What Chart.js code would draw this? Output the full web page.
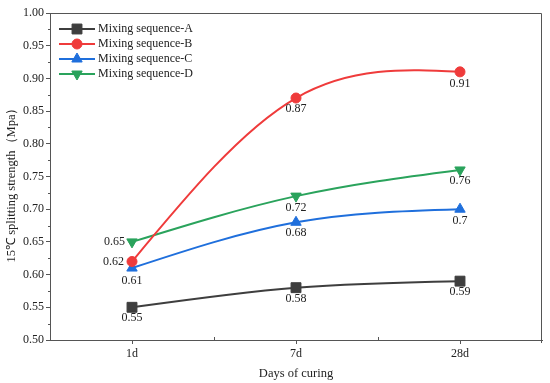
<!DOCTYPE html>
<html>
<head>
<meta charset="utf-8">
<script src="https://cdn.jsdelivr.net/npm/chart.js@4/dist/chart.umd.min.js"></script>
<style>
  html, body { margin: 0; padding: 0; background: #fff; }
  #wrap { width: 550px; height: 383px; }
</style>
</head>
<body>
<div id="wrap"><canvas id="strengthChart" width="550" height="383"></canvas></div>
<script>
// data
const days = ['1d', '7d', '28d'];
const seqA = [0.55, 0.58, 0.59];
const seqB = [0.62, 0.87, 0.91];
const seqC = [0.61, 0.68, 0.70];
const seqD = [0.65, 0.72, 0.76];
const seqLabels = ['Mixing sequence-A', 'Mixing sequence-B', 'Mixing sequence-C', 'Mixing sequence-D'];
// label text as printed in the figure
const pointTexts = [
    ['0.55', '0.58', '0.59'],
    ['0.62', '0.87', '0.91'],
    ['0.61', '0.68', '0.7'],
    ['0.65', '0.72', '0.76']
];

const serif = '"Liberation Serif", "Times New Roman", serif';
const inkColor = '#222';
const axisColor = '#555';

// where each value label sits relative to its point: [dx, dy, align]
const labelPos = [
    [[0, 11, 'center'], [0, 11, 'center'], [0, 11, 'center']],
    [[-8, 0, 'right'], [0, 11, 'center'], [0, 12, 'center']],
    [[0, 13, 'center'], [0, 11, 'center'], [0, 12, 'center']],
    [[-7, 0, 'right'], [0, 12, 'center'], [0, 11, 'center']]
];

// natural cubic spline through the points the library placed
const splinePlugin = {
    id: 'naturalSpline',
    beforeDatasetsDraw(chart) {
        chart.data.datasets.forEach((ds, di) => {
            const meta = chart.getDatasetMeta(di);
            const pts = meta.data;
            const n = pts.length;
            if (n < 3) return;
            const x = pts.map(p => p.x);
            const y = pts.map(p => p.y);
            const h = [];
            for (let i = 0; i < n - 1; i++) h.push(x[i + 1] - x[i]);
            // solve for second derivatives, M0 = Mn-1 = 0
            const a = [], b = [], c = [], r = [];
            for (let i = 1; i < n - 1; i++) {
                a.push(h[i - 1]);
                b.push(2 * (h[i - 1] + h[i]));
                c.push(h[i]);
                r.push(6 * ((y[i + 1] - y[i]) / h[i] - (y[i] - y[i - 1]) / h[i - 1]));
            }
            const m = r.length;
            for (let i = 1; i < m; i++) {
                const w = a[i] / b[i - 1];
                b[i] -= w * c[i - 1];
                r[i] -= w * r[i - 1];
            }
            const inner = new Array(m);
            for (let i = m - 1; i >= 0; i--) {
                inner[i] = (r[i] - (i < m - 1 ? c[i] * inner[i + 1] : 0)) / b[i];
            }
            const M = [0].concat(inner, [0]);
            for (let i = 0; i < n - 1; i++) {
                const hi = h[i];
                const s = (y[i + 1] - y[i]) / hi;
                const dL = s - hi * (2 * M[i] + M[i + 1]) / 6;
                const dR = s + hi * (M[i] + 2 * M[i + 1]) / 6;
                pts[i].cp2x = x[i] + hi / 3;
                pts[i].cp2y = y[i] + dL * hi / 3;
                pts[i + 1].cp1x = x[i + 1] - hi / 3;
                pts[i + 1].cp1y = y[i + 1] - dR * hi / 3;
            }
            pts[0].cp1x = x[0]; pts[0].cp1y = y[0];
            pts[n - 1].cp2x = x[n - 1]; pts[n - 1].cp2y = y[n - 1];
            meta.dataset._pointsUpdated = true;
        });
    }
};

// frame, minor ticks, titles, value labels and legend
const decorPlugin = {
    id: 'decor',
    afterDraw(chart) {
        const ctx = chart.ctx;
        const area = chart.chartArea;
        const xs = chart.scales.x;
        const ys = chart.scales.y;
        ctx.save();

        // top and right frame
        ctx.strokeStyle = axisColor;
        ctx.lineWidth = 1;
        ctx.beginPath();
        ctx.moveTo(area.left, area.top + 0.5);
        ctx.lineTo(area.right - 0.5, area.top + 0.5);
        ctx.lineTo(area.right - 0.5, area.bottom);
        ctx.stroke();

        // minor y ticks
        ctx.beginPath();
        for (let v = 0.525; v < 1; v += 0.05) {
            const py = Math.round(ys.getPixelForValue(v)) + 0.5;
            ctx.moveTo(area.left, py);
            ctx.lineTo(area.left - 2, py);
        }
        // minor x ticks between categories
        for (let i = 0; i < days.length - 1; i++) {
            const px = Math.round((xs.getPixelForValue(i) + xs.getPixelForValue(i + 1)) / 2) + 0.5;
            ctx.moveTo(px, area.bottom);
            ctx.lineTo(px, area.bottom - 3);
        }
        ctx.moveTo(area.right - 0.5, area.bottom);
        ctx.lineTo(area.right - 0.5, area.bottom + 3);
        ctx.stroke();

        // y title
        ctx.fillStyle = inkColor;
        ctx.font = '12.5px ' + serif;
        ctx.textAlign = 'center';
        ctx.textBaseline = 'middle';
        ctx.save();
        ctx.translate(12, 182);
        ctx.rotate(-Math.PI / 2);
        ctx.fillText('15℃ splitting strength（Mpa）', 0, 0);
        ctx.restore();

        // value labels
        ctx.font = '12px ' + serif;
        chart.data.datasets.forEach((ds, di) => {
            const meta = chart.getDatasetMeta(di);
            meta.data.forEach((pt, i) => {
                const p = labelPos[di][i];
                ctx.textAlign = p[2];
                ctx.fillText(pointTexts[di][i], pt.x + p[0], pt.y + p[1]);
            });
        });

        // legend
        const lx = 59, lw = 36;
        let ly = 29;
        ctx.textAlign = 'left';
        chart.data.datasets.forEach((ds) => {
            ctx.strokeStyle = ds.borderColor;
            ctx.fillStyle = ds.borderColor;
            ctx.lineWidth = 2;
            ctx.beginPath();
            ctx.moveTo(lx, ly);
            ctx.lineTo(lx + lw, ly);
            ctx.stroke();
            ctx.lineWidth = 1;
            Chart.helpers.drawPoint(ctx, {
                pointStyle: ds.pointStyle,
                rotation: ds.pointRotation || 0,
                radius: ds.pointRadius,
                borderWidth: 1
            }, lx + lw / 2, ly);
            ctx.fillStyle = inkColor;
            ctx.fillText(ds.label, lx + lw + 3, ly);
            ly += 15;
        });
        ctx.restore();
    }
};

function makeSet(label, values, color, style, radius, rotation) {
    return {
        label: label,
        data: values,
        borderColor: color,
        backgroundColor: color,
        borderWidth: 2,
        pointStyle: style,
        pointRadius: radius,
        pointHoverRadius: radius,
        pointRotation: rotation || 0,
        pointBorderWidth: 1,
        pointBorderColor: color,
        pointBackgroundColor: color,
        tension: 0.4,
        fill: false
    };
}

const config = {
    type: 'line',
    data: {
        labels: days,
        datasets: [
            makeSet(seqLabels[0], seqA, '#3e3e3e', 'rect', 7),
            makeSet(seqLabels[1], seqB, '#ef3b3b', 'circle', 5),
            makeSet(seqLabels[2], seqC, '#1f6fdc', 'triangle', 6),
            makeSet(seqLabels[3], seqD, '#2aa35c', 'triangle', 6, 180)
        ]
    },
    options: {
        responsive: false,
        animation: false,
        devicePixelRatio: 1,
        layout: { padding: { top: 13, right: 5, left: 0, bottom: 0 } },
        plugins: {
            legend: { display: false },
            tooltip: { enabled: false }
        },
        scales: {
            x: {
                type: 'category',
                offset: true,
                afterFit(scale) { scale.height = 43; },
                grid: {
                    drawOnChartArea: false,
                    drawTicks: true,
                    tickLength: 4,
                    color: axisColor,
                    offset: false
                },
                border: { color: axisColor, width: 1 },
                ticks: {
                    color: inkColor,
                    font: { family: serif, size: 12 },
                    padding: 3,
                    maxRotation: 0
                },
                title: {
                    display: true,
                    text: 'Days of curing',
                    color: inkColor,
                    font: { family: serif, size: 12.5 },
                    padding: { top: 0, bottom: 2 }
                }
            },
            y: {
                min: 0.5,
                max: 1.0,
                afterFit(scale) { scale.width = 50; },
                grid: {
                    drawOnChartArea: false,
                    drawTicks: true,
                    tickLength: 4,
                    color: axisColor
                },
                border: { color: axisColor, width: 1 },
                ticks: {
                    stepSize: 0.05,
                    color: inkColor,
                    font: { family: serif, size: 12 },
                    padding: 2,
                    callback: (v) => Number(v).toFixed(2)
                }
            }
        }
    },
    plugins: [splinePlugin, decorPlugin]
};

document.addEventListener('DOMContentLoaded', function() {
    const ctx = document.getElementById('strengthChart').getContext('2d');
    new Chart(ctx, config);
});
</script>
</body>
</html>
